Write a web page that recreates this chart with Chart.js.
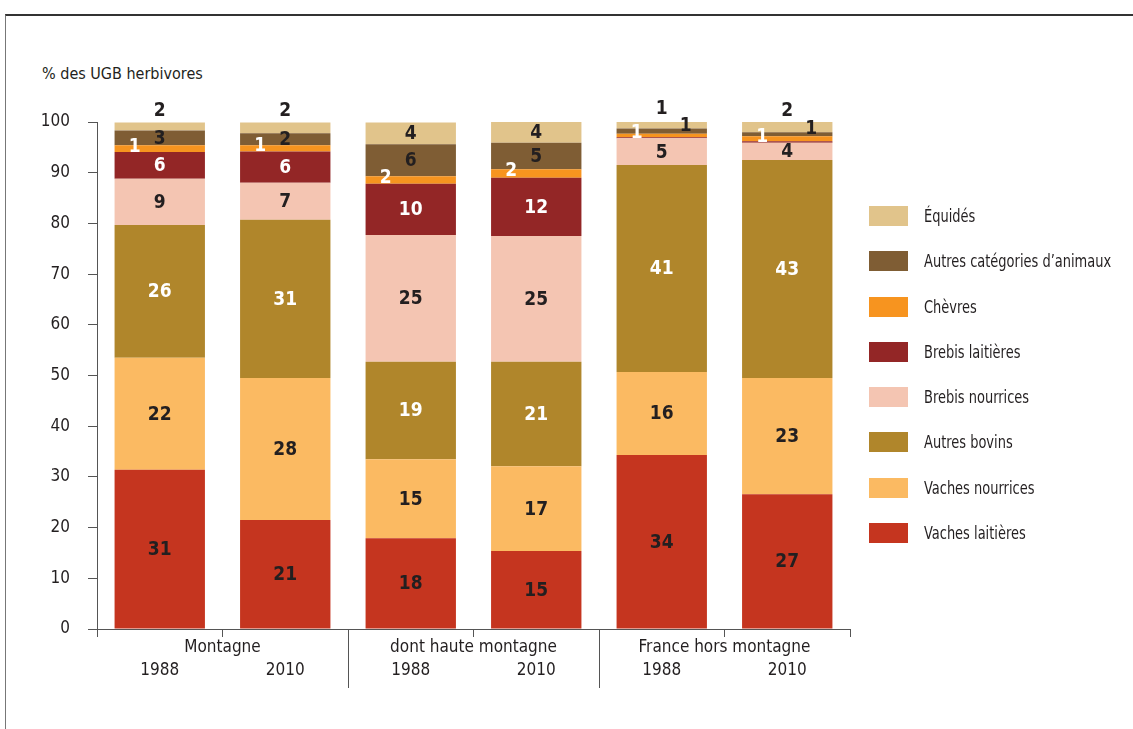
<!DOCTYPE html>
<html lang="fr">
<head>
<meta charset="utf-8">
<script src="https://cdn.jsdelivr.net/npm/chart.js@4.4.1/dist/chart.umd.min.js"></script>
<style>
  html,body{ margin:0; padding:0; background:#fff; }
  #wrap{ position:relative; width:1133px; height:729px; overflow:hidden; font-family:"Liberation Sans Narrow","DejaVu Sans Condensed",sans-serif; color:#231f20; }
  #frame{ position:absolute; left:5px; top:14px; right:-2px; bottom:-2px; border-top:2px solid #333; border-left:1px solid #777; }
  #ytitle{ position:absolute; left:42px; top:64px; font-size:16px; white-space:nowrap; }
  #legend{ position:absolute; left:869px; top:206px; }
  .lg{ display:flex; align-items:center; height:20px; margin-bottom:25.3px; font-size:17px; white-space:nowrap; }
  .lg span.box{ display:inline-block; flex:none; width:39px; height:20px; margin-right:16px; }
  .lg span.tx{ display:inline-block; transform:scaleX(0.85); transform-origin:left center; }
  canvas{ position:absolute; left:0; top:0; }
</style>
</head>
<body>
<div id="wrap">
  <div id="frame"></div>
  <div id="ytitle">% des UGB herbivores</div>
  <canvas id="chart" width="1133" height="729"></canvas>
  <div id="legend"></div>
</div>
<script>
// ── DONNÉES ─────────────────────────────────────────────
const groupes = ['Montagne', 'dont haute montagne', 'France hors montagne'];
const annees  = ['1988', '2010', '1988', '2010', '1988', '2010'];

// valeurs (hauteur des barres, en %)
const vachesLaitieres  = [31.4, 21.5, 17.9, 15.4, 34.3, 26.6];
const vachesNourrices  = [22.1, 28.0, 15.6, 16.7, 16.4, 22.9];
const autresBovins     = [26.2, 31.2, 19.2, 20.6, 40.8, 43.0];
const brebisNourrices  = [ 9.1,  7.3, 25.0, 24.8,  5.3,  3.4];
const brebisLaitieres  = [ 5.3,  6.2, 10.1, 11.5,  0.2,  0.3];
const chevres          = [ 1.3,  1.2,  1.5,  1.7,  0.7,  1.0];
const autresCategories = [ 2.9,  2.4,  6.3,  5.2,  1.0,  0.8];
const equides          = [ 1.6,  2.1,  4.3,  4.1,  1.6,  2.0];

// étiquettes imprimées sur les barres
const lblVachesLaitieres  = [31, 21, 18, 15, 34, 27];
const lblVachesNourrices  = [22, 28, 15, 17, 16, 23];
const lblAutresBovins     = [26, 31, 19, 21, 41, 43];
const lblBrebisNourrices  = [ 9,  7, 25, 25,  5,  4];
const lblBrebisLaitieres  = [ 6,  6, 10, 12, null, null];
const lblChevres          = [ 1,  1,  2,  2,  1,  1];
const lblAutresCategories = [ 3,  2,  6,  5,  1,  1];
const lblEquides          = [ 2,  2,  4,  4,  1,  2];

const yTicks = [0,10,20,30,40,50,60,70,80,90,100];

// ── SÉRIES ──────────────────────────────────────────────
const SERIES = [
  { label:'Vaches laitières',           data:vachesLaitieres,  lbl:lblVachesLaitieres,  color:'#c5351f', txt:'#231f20', pos:'in' },
  { label:'Vaches nourrices',           data:vachesNourrices,  lbl:lblVachesNourrices,  color:'#fbba62', txt:'#231f20', pos:'in' },
  { label:'Autres bovins',              data:autresBovins,     lbl:lblAutresBovins,     color:'#b0862b', txt:'#ffffff', pos:'in' },
  { label:'Brebis nourrices',           data:brebisNourrices,  lbl:lblBrebisNourrices,  color:'#f4c5b2', txt:'#231f20', pos:'in' },
  { label:'Brebis laitières',           data:brebisLaitieres,  lbl:lblBrebisLaitieres,  color:'#932626', txt:'#ffffff', pos:'in' },
  { label:'Chèvres',                    data:chevres,          lbl:lblChevres,          color:'#f7941f', txt:'#ffffff', pos:'left' },
  { label:'Autres catégories d’animaux',data:autresCategories, lbl:lblAutresCategories, color:'#7f5d34', txt:'#231f20', pos:'smallright' },
  { label:'Équidés',                    data:equides,          lbl:lblEquides,          color:'#e1c48b', txt:'#231f20', pos:'smallabove' },
];

const FONT = '"Liberation Sans Narrow","DejaVu Sans Condensed",sans-serif';

// ── ÉTIQUETTES DES BARRES ───────────────────────────────
const barLabels = {
  id:'barLabels',
  afterDatasetsDraw(chart){
    const ctx = chart.ctx;
    ctx.save();
    ctx.font = 'bold 19px ' + FONT;
    ctx.textAlign = 'center';
    ctx.textBaseline = 'middle';
    SERIES.forEach((s, d) => {
      const meta = chart.getDatasetMeta(d);
      meta.data.forEach((el, i) => {
        const t = s.lbl[i];
        if(t === null || t === undefined) return;
        const top = el.y, bot = el.base, mid = (top + bot) / 2;
        let x = el.x, y = mid + 1, col = s.txt;
        if(s.pos === 'left'){ x = el.x - 25; y = mid - 2; }
        if(s.pos === 'smallright' && s.data[i] < 1.5){ x = el.x + 24; y = top - 3; }
        if(s.pos === 'smallabove' && s.data[i] < 3){ y = top - 11; col = '#231f20'; }
        ctx.fillStyle = col;
        ctx.fillText(String(t), x, y);
      });
    });
    ctx.restore();
  }
};

// ── AXE X : ANNÉES, GROUPES, SÉPARATEURS ────────────────
const xAxisText = {
  id:'xAxisText',
  afterDraw(chart){
    const ctx = chart.ctx, xs = chart.scales.x, bottom = chart.chartArea.bottom;
    ctx.save();
    ctx.fillStyle = '#231f20';
    ctx.font = '17px ' + FONT;
    ctx.textAlign = 'center';
    ctx.textBaseline = 'middle';
    annees.forEach((a, i) => ctx.fillText(a, xs.getPixelForValue(i), bottom + 42));
    groupes.forEach((g, k) => {
      const x = (xs.getPixelForValue(2*k) + xs.getPixelForValue(2*k+1)) / 2;
      ctx.fillText(g, x, bottom + 19);
    });
    ctx.strokeStyle = '#555';
    ctx.lineWidth = 1;
    [1, 2].forEach(k => {
      const x = Math.round((xs.getPixelForValue(2*k-1) + xs.getPixelForValue(2*k)) / 2) + 0.5;
      ctx.beginPath(); ctx.moveTo(x, bottom); ctx.lineTo(x, bottom + 59); ctx.stroke();
    });
    ctx.restore();
  }
};

new Chart(document.getElementById('chart'), {
  type:'bar',
  data:{
    labels: annees,
    datasets: SERIES.map(s => ({
      label: s.label, data: s.data, backgroundColor: s.color,
      borderWidth: 0, categoryPercentage: 1, barPercentage: 0.72
    }))
  },
  options:{
    responsive:false,
    animation:false,
    layout:{ padding:{ top:122, right:283, left:0, bottom:0 } },
    plugins:{ legend:{ display:false }, tooltip:{ enabled:false } },
    scales:{
      x:{
        stacked:true,
        afterFit(scale){ scale.height = 100; },
        ticks:{ display:false },
        grid:{ offset:true, drawOnChartArea:false, drawTicks:true, tickLength:8, color:'#555' },
        border:{ color:'#555', width:1 }
      },
      y:{
        stacked:true, min:0, max:100,
        afterFit(scale){ scale.width = 97; },
        afterBuildTicks(scale){ scale.ticks = yTicks.map(v => ({ value:v })); },
        ticks:{ padding:18, color:'#231f20', font:{ family:FONT, size:17 } },
        grid:{ drawOnChartArea:false, tickLength:9, color:'#555' },
        border:{ color:'#555', width:1 }
      }
    }
  },
  plugins:[barLabels, xAxisText]
});

// ── LÉGENDE ─────────────────────────────────────────────
document.getElementById('legend').innerHTML = [...SERIES].reverse().map(s => `
  <div class="lg"><span class="box" style="background:${s.color}"></span><span class="tx">${s.label}</span></div>
`).join('');
</script>
</body>
</html>
